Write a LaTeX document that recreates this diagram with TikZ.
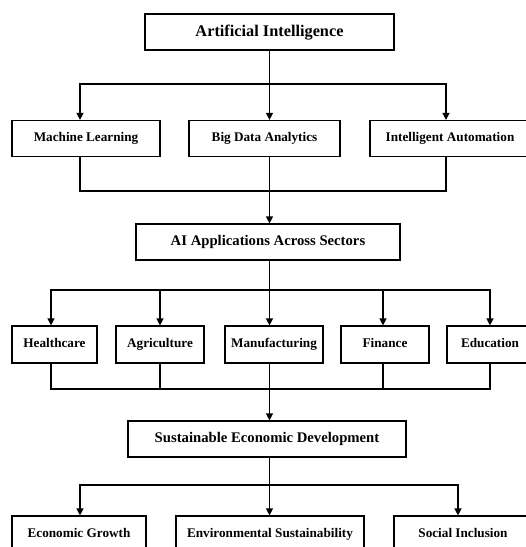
\documentclass[tikz,border=0pt]{standalone}
\usepackage{fontspec}
\setmainfont{Liberation Serif}
\usetikzlibrary{arrows.meta}

\begin{document}
\begin{tikzpicture}[x=1pt, y=-1pt, >={Triangle[width=7pt,length=7pt]},
  line width=1.3pt, line cap=rect,
  box/.style={draw, line width=1.2pt, line cap=butt, minimum height=36pt, inner sep=0pt,
    text height=9pt, text depth=2.8pt, font=\bfseries\fontsize{13.2}{15}\selectfont},
  hub/.style={box, text height=10pt, text depth=3pt, font=\bfseries\fontsize{14.7}{17}\selectfont},
  arr/.style={->, line cap=butt}]

\useasboundingbox (0,0) rectangle (526,547);

% Top level
\node[hub, minimum width=249pt, text height=11.5pt, font=\bfseries\fontsize{16.3}{19}\selectfont] (ai) at (269.5,32) {Artificial Intelligence};

% Enabling technologies
\node[box, minimum width=148pt] (ml)  at (86,138.5)    {Machine Learning};
\node[box, minimum width=151pt] (bda) at (264.5,138.5) {Big Data Analytics};
\node[box, minimum width=160pt] (ia)  at (450,138.5)   {Intelligent Automation};

% Sectors hub
\node[hub, minimum width=264pt] (apps) at (268,242) {AI Applications Across Sectors};

% Sectors
\node[box, minimum width=85pt, minimum height=37pt]  (health) at (54.5,344.5) {Healthcare};
\node[box, minimum width=88pt, minimum height=37pt]  (agri)   at (160,344.5)  {Agriculture};
\node[box, minimum width=98pt, minimum height=37pt]  (manuf)  at (274,344.5)  {Manufacturing};
\node[box, minimum width=88pt, minimum height=37pt]  (fin)    at (385,344.5)  {Finance};
\node[box, minimum width=86pt, minimum height=37pt]  (edu)    at (490,344.5)  {Education};

% Outcome hub
\node[hub, minimum width=278pt] (sed) at (267,439) {Sustainable Economic Development};

% Outcomes (cut by the page edge)
\node[box, minimum width=134pt] (growth) at (79,534)  {Economic Growth};
\node[box, minimum width=188pt] (env)    at (270,534) {Environmental Sustainability};
\node[box, minimum width=138pt] (incl)   at (463,534) {Social Inclusion};

% Junctions on the buses
\coordinate (j1) at (269.5,84);
\coordinate (j2) at (269.5,191);
\coordinate (j3) at (269.5,290);
\coordinate (j4) at (269.5,389);
\coordinate (j5) at (269.5,485);

% AI -> technologies
\draw (ai.south) -- (j1);
\draw (80,84) -- (446,84);
\foreach \n/\x in {ml/80, bda/269.5, ia/446}
  \draw[arr] (\x,84) -- (\x,84 |- \n.north);

% technologies -> applications
\foreach \n/\x in {ml/80, bda/269.5, ia/446}
  \draw (\x,0 |- \n.south) -- (\x,191);
\draw (80,191) -- (446,191);
\draw[arr] (j2) -- (j2 |- apps.north);

% applications -> sectors
\draw (apps.south -| j3) -- (j3);
\draw (51,290) -- (490,290);
\foreach \n/\x in {health/51, agri/160, manuf/269.5, fin/383, edu/490}
  \draw[arr] (\x,290) -- (\x,290 |- \n.north);

% sectors -> development
\foreach \n/\x in {health/51, agri/160, manuf/269.5, fin/383, edu/490}
  \draw (\x,0 |- \n.south) -- (\x,389);
\draw (51,389) -- (490,389);
\draw[arr] (j4) -- (j4 |- sed.north);

% development -> outcomes
\draw (sed.south -| j5) -- (j5);
\draw (80,485) -- (458,485);
\foreach \n/\x in {growth/80, env/269.5, incl/458}
  \draw[arr] (\x,485) -- (\x,485 |- \n.north);

\end{tikzpicture}
\end{document}
